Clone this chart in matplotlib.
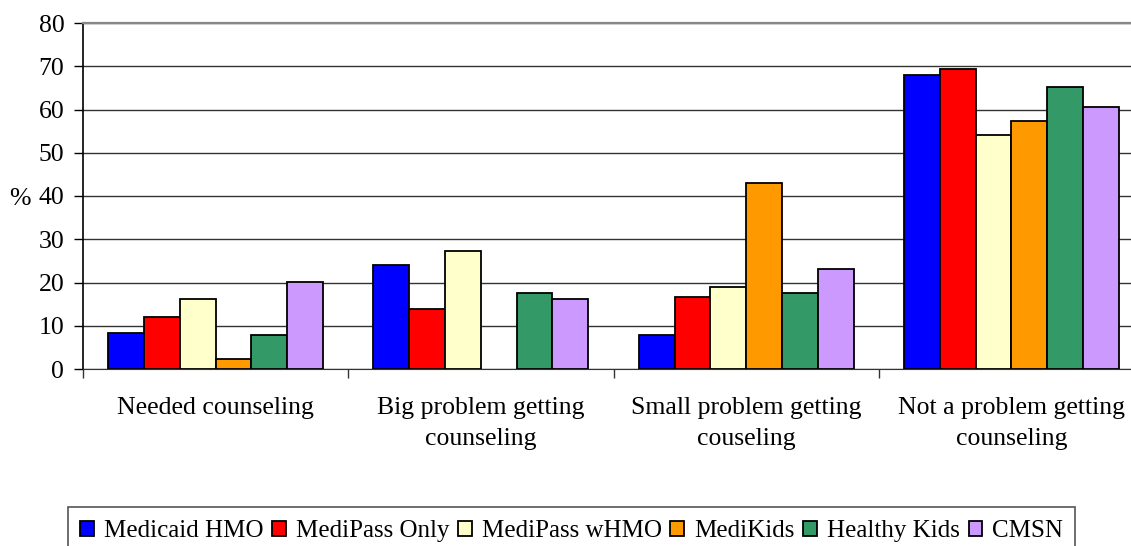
import numpy as np
import matplotlib
matplotlib.use('Agg')
import matplotlib.pyplot as plt
from matplotlib.patches import Rectangle

plt.rcParams['font.family'] = ['Liberation Serif', 'DejaVu Serif']
fsz = 18.5

# data (percent)
categories = ['Needed counseling', 'Big problem getting\ncounseling',
              'Small problem getting\ncouseling', 'Not a problem getting\ncounseling']
series = ['Medicaid HMO', 'MediPass Only', 'MediPass wHMO', 'MediKids', 'Healthy Kids', 'CMSN']
colors = ['#0000FF', '#FF0000', '#FFFFCC', '#FF9900', '#339966', '#CC99FF']

medicaid_hmo = [8.4, 24.1, 7.9, 68.0]
medipass_only = [12.0, 13.9, 16.7, 69.4]
medipass_whmo = [16.1, 27.3, 19.0, 54.2]
medikids = [2.2, 0.0, 43.1, 57.3]
healthy_kids = [7.9, 17.5, 17.5, 65.2]
cmsn = [20.2, 16.2, 23.2, 60.6]
values = [medicaid_hmo, medipass_only, medipass_whmo, medikids, healthy_kids, cmsn]

W, H = 1131, 546
fig = plt.figure(figsize=(W / 100, H / 100), dpi=100)
# plot area (pixels): left 83, right ~1144 (cut by image), top 23, bottom 369
ax = fig.add_axes([83 / W, (H - 369) / H, (1144 - 83) / W, (369 - 23) / H])

xx = np.arange(len(categories))
bw = 0.135
for ii in range(len(series)):
    vals = np.array(values[ii])
    keep = vals > 0
    ax.bar(xx[keep] + (ii - 2.5) * bw, vals[keep], width=bw, color=colors[ii],
           edgecolor='black', linewidth=1.3, label=series[ii], zorder=3)

ax.set_xlim(-0.5, 3.5)
ax.set_ylim(0, 80)
ax.set_yticks(np.arange(0, 81, 10))
ax.yaxis.grid(True, color='#333333', linewidth=1.0, zorder=0)
ax.tick_params(axis='y', labelsize=fsz, length=6.5, width=1, pad=7)

ax.set_xticks(xx)
ax.set_xticklabels(categories, fontsize=fsz, linespacing=1.55)
ax.set_xticks([-0.5, 0.5, 1.5, 2.5], minor=True)
ax.tick_params(axis='x', which='major', length=0, pad=20)
ax.tick_params(axis='x', which='minor', length=6.5, width=1, color='#333333')

ax.spines['top'].set_color('#888888')
ax.spines['top'].set_linewidth(1.6)
ax.spines['right'].set_visible(False)
ax.spines['left'].set_linewidth(1.2)
ax.spines['bottom'].set_color('#333333')

ax.set_ylabel('%', rotation=0, fontsize=fsz, va='center', ha='center')
ax.yaxis.set_label_coords((20 - 83) / (1144 - 83), 0.49)

# legend box (extends past the bottom of the image)
fig.patches.append(Rectangle((68 / W, -0.05), (1075 - 68) / W, (H - 507) / H + 0.05,
                             transform=fig.transFigure, facecolor='white',
                             edgecolor='#555555', linewidth=1.2))
leg = fig.legend(loc='center', bbox_to_anchor=((68 + 1075) / 2 / W, 1 - 531 / H),
                 ncol=6, fontsize=18, frameon=False, handlelength=0.55,
                 handleheight=0.55, handletextpad=0.4, columnspacing=0.35,
                 borderpad=0, borderaxespad=0)

plt.savefig('out.png', dpi=100)
